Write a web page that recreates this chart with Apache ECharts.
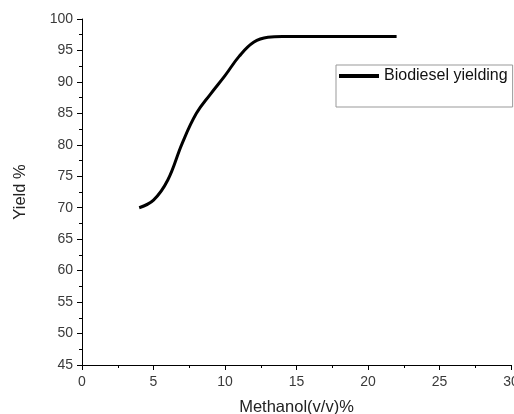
<!DOCTYPE html>
<html>
<head>
<meta charset="utf-8">
<script src="https://cdn.jsdelivr.net/npm/echarts@6/dist/echarts.min.js"></script>
<style>
html,body{margin:0;padding:0;background:#fff;}
#chart{width:514px;height:414px;}
</style>
</head>
<body>
<div id="chart"></div>
<script>
var methanol = [4, 5, 6, 7, 8, 9, 10, 11, 12, 13, 14, 16, 18, 20, 22];
var yieldPct = [70, 71.2, 74.4, 80.2, 85, 88.1, 91, 94.1, 96.3, 97.1, 97.2, 97.2, 97.2, 97.2, 97.2];
var seriesName = 'Biodiesel yielding';
var xName = 'Methanol(v/v)%';
var yName = 'Yield %';

var data = methanol.map(function (x, i) { return [x, yieldPct[i]]; });
var chart = echarts.init(document.getElementById('chart'), null, {renderer: 'canvas'});
var FONT = 'Liberation Sans, Arial, sans-serif';
var axisText = {color: '#3a3a3a', fontSize: 14, fontFamily: FONT};
chart.setOption({
  animation: false,
  backgroundColor: '#fff',
  grid: {left: 82, right: 3, top: 19, bottom: 49, containLabel: false, outerBoundsMode: 'none'},
  legend: {
    left: 336, top: 65,
    padding: [2, 5, 22, 3],
    itemWidth: 40, itemHeight: 4, itemGap: 8,
    borderColor: '#999', borderWidth: 1,
    textStyle: {color: '#111', fontSize: 16, fontFamily: FONT, lineHeight: 18},
    data: [{name: seriesName, icon: 'rect', itemStyle: {color: '#000'}}]
  },
  xAxis: {
    type: 'value', min: 0, max: 30, interval: 5,
    name: xName, nameLocation: 'middle', nameGap: 34,
    nameTextStyle: {color: '#222', fontSize: 16.5, fontFamily: FONT},
    axisLine: {show: true, onZero: false, lineStyle: {color: '#000', width: 1}},
    axisTick: {show: true, inside: false, length: 5, lineStyle: {color: '#000'}},
    minorTick: {show: true, splitNumber: 2, length: 3, lineStyle: {color: '#000'}},
    axisLabel: Object.assign({margin: 10}, axisText),
    splitLine: {show: false}
  },
  yAxis: {
    type: 'value', min: 45, max: 100, interval: 5,
    name: yName, nameLocation: 'middle', nameGap: 53,
    nameTextStyle: {color: '#222', fontSize: 16.5, fontFamily: FONT},
    axisLine: {show: true, onZero: false, lineStyle: {color: '#000', width: 1}},
    axisTick: {show: true, inside: false, length: 5, lineStyle: {color: '#000'}},
    minorTick: {show: true, splitNumber: 2, length: 3, lineStyle: {color: '#000'}},
    axisLabel: Object.assign({margin: 9}, axisText),
    splitLine: {show: false}
  },
  series: [{
    name: seriesName,
    type: 'line',
    data: data,
    smooth: 0.4,
    showSymbol: false,
    symbol: 'none',
    lineStyle: {color: '#000', width: 3},
    itemStyle: {color: '#000'}
  }]
});
</script>
</body>
</html>
